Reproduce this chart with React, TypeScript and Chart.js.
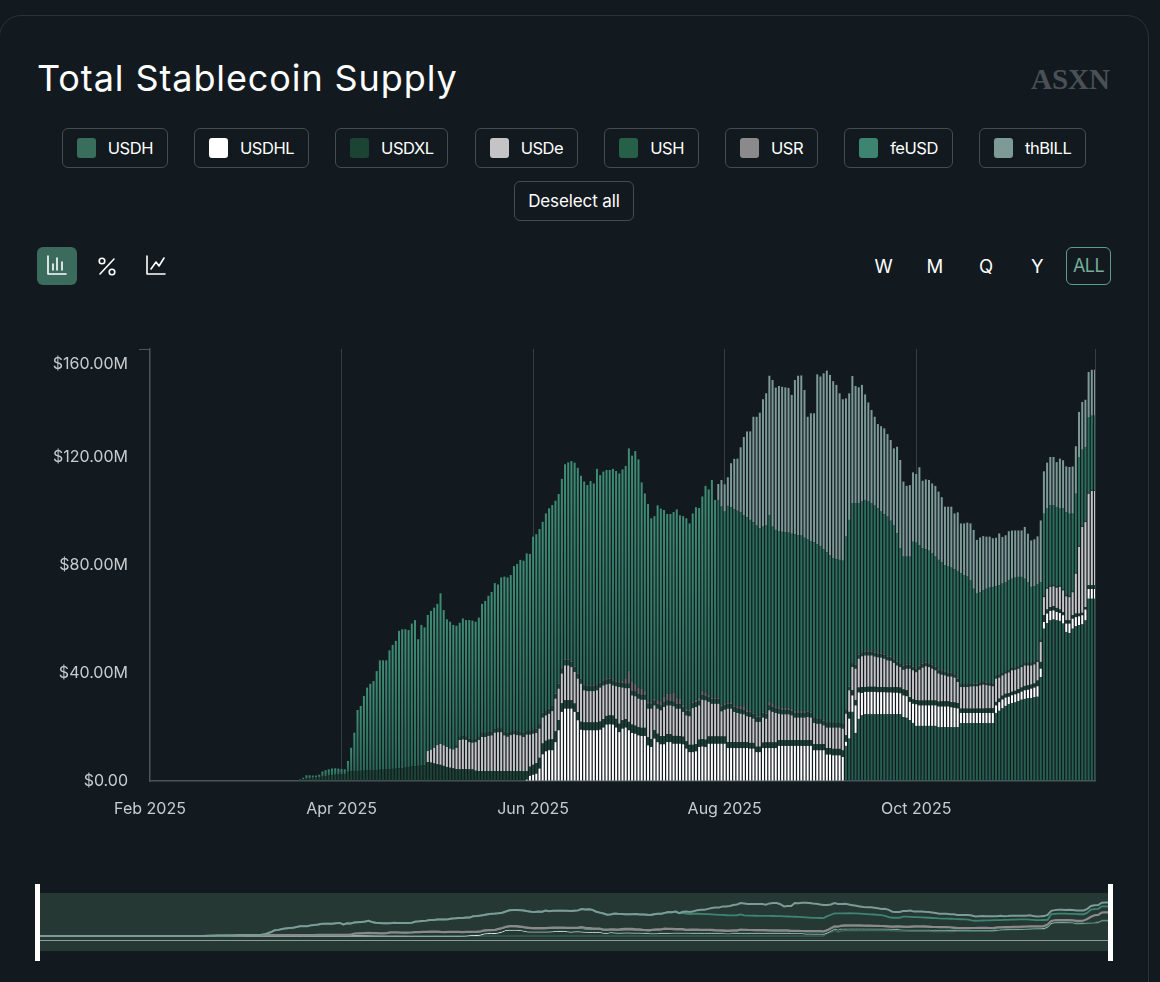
import { useEffect, useRef } from "react";
import Chart from "chart.js/auto";

const BAR_COUNT = 297;

const xTickLabels = ["Feb 2025", "Apr 2025", "Jun 2025", "Aug 2025", "Oct 2025"];
const yTickLabels = ["$0.00", "$40.00M", "$80.00M", "$120.00M", "$160.00M"];
const rangeButtons = ["W", "M", "Q", "Y"];

const seriesNames = ["USDH", "USDHL", "USDXL", "USDe", "USH", "USR", "feUSD", "thBILL"];
const seriesColors = ["#3a6e5c", "#ffffff", "#1c4435", "#c4c4c6", "#266048", "#8a8a8c", "#3d8570", "#7d9a96"];

// values in $M, each list ends on the last day; days before it starts are zero
const usdh = [
  13.0, 15.7, 25.6, 17.8, 23.0, 24.3, 24.7, 24.7, 24.7, 24.7,
  24.7, 24.7, 24.7, 24.7, 24.7, 24.7, 24.7, 24.7, 23.7, 23.4,
  22.5, 21.5, 20.4, 20.4, 20.4, 20.4, 20.4, 20.4, 20.4, 19.9,
  19.9, 19.9, 19.9, 19.9, 19.9, 19.9, 21.4, 21.4, 21.4, 21.4,
  21.4, 21.4, 21.4, 21.4, 21.4, 21.4, 21.4, 25.2, 26.0, 26.9,
  27.8, 28.4, 28.9, 29.1, 29.6, 30.1, 30.4, 30.6, 30.7, 31.0,
  31.2, 38.5, 56.4, 58.5, 59.5, 59.8, 59.5, 59.3, 58.3, 55.2,
  54.8, 56.4, 57.3, 57.7, 58.0, 59.5, 67.5, 67.5, 67.5,
];

const usdhl = [
  0.5, 1.9, 2.3, 2.7, 4.6, 9.9, 11.0, 11.4, 11.4, 14.4,
  18.8, 25.6, 26.8, 26.8, 26.8, 25.6, 22.5, 19.0, 18.8, 18.8,
  18.8, 18.8, 18.8, 19.0, 19.8, 20.9, 21.0, 20.9, 19.8, 18.1,
  19.4, 19.8, 18.8, 17.8, 17.5, 16.9, 16.7, 16.7, 13.2, 12.6,
  15.7, 14.4, 13.6, 13.6, 14.4, 14.4, 13.8, 13.8, 13.8, 13.6,
  12.0, 10.7, 10.7, 11.0, 12.6, 12.8, 12.6, 13.8, 13.8, 13.8,
  13.8, 13.8, 13.8, 12.2, 12.2, 12.2, 12.2, 12.2, 12.2, 12.2,
  12.0, 12.0, 10.7, 10.7, 12.2, 12.2, 12.2, 12.2, 12.2, 13.0,
  13.0, 13.0, 13.0, 13.0, 13.0, 13.0, 13.0, 13.0, 13.0, 13.0,
  11.4, 11.4, 11.4, 11.4, 9.8, 9.8, 9.5, 9.5, 9.5, 8.9,
  1.5, 7.4, 6.1, 10.2, 9.8, 8.3, 8.3, 8.3, 8.3, 8.3,
  8.2, 8.2, 8.2, 8.1, 8.1, 8.0, 8.0, 7.8, 8.0, 8.0,
  6.8, 7.1, 8.0, 7.6, 7.6, 7.6, 7.6, 7.6, 7.6, 7.7,
  7.7, 7.7, 7.7, 7.4, 7.2, 7.0, 3.8, 3.8, 3.8, 3.8,
  3.8, 3.8, 3.8, 3.8, 3.8, 3.8, 3.8, 2.8, 3.2, 3.3,
  3.1, 2.8, 2.9, 3.0, 2.9, 3.0, 3.2, 3.2, 3.5, 3.6,
  3.9, 3.1, 2.5, 3.5, 3.5, 3.4, 3.1, 2.9, 3.1, 3.1,
  3.5, 3.7, 3.4, 3.3, 3.4, 4.0, 3.6, 3.6, 3.6,
];

const usdxl = [
  0.2, 0.4, 0.6, 0.9, 1.1, 1.2, 1.3, 1.4, 1.6, 1.8,
  2.0, 2.2, 2.3, 2.4, 2.5, 2.6, 3.4, 3.6, 3.7, 3.7,
  3.8, 3.8, 3.9, 3.9, 4.0, 4.1, 4.2, 4.2, 4.3, 4.3,
  4.5, 4.6, 4.7, 4.8, 5.0, 5.2, 5.4, 5.5, 5.6, 5.7,
  5.9, 7.0, 6.8, 6.5, 6.2, 6.0, 5.6, 5.2, 4.9, 4.7,
  4.4, 4.3, 4.4, 4.4, 4.3, 4.3, 3.8, 3.7, 3.7, 3.7,
  3.7, 3.7, 3.7, 3.7, 3.7, 3.7, 3.7, 3.7, 3.7, 3.7,
  3.7, 3.6, 3.2, 3.4, 3.7, 3.9, 4.0, 4.0, 3.9, 3.9,
  4.0, 4.0, 3.8, 3.2, 3.1, 3.1, 3.1, 3.1, 3.0, 2.9,
  2.9, 2.9, 2.9, 2.9, 2.9, 3.0, 3.1, 3.2, 3.3, 3.3,
  3.2, 3.1, 3.1, 3.1, 3.1, 3.1, 3.0, 3.0, 3.0, 3.0,
  3.0, 2.9, 3.1, 3.1, 3.0, 3.0, 3.0, 3.0, 2.9, 2.9,
  2.8, 2.8, 2.7, 2.7, 2.7, 2.7, 2.7, 2.7, 2.7, 2.7,
  2.7, 2.7, 2.7, 2.7, 2.7, 2.2, 2.2, 2.2, 2.2, 2.2,
  2.2, 2.2, 2.1, 2.1, 2.0, 2.0, 2.0, 2.1, 2.1, 2.1,
  2.1, 2.1, 2.1, 2.1, 2.1, 2.1, 2.1, 2.1, 2.1, 2.1,
  2.1, 2.1, 2.2, 2.2, 2.2, 2.3, 2.4, 2.4, 2.4, 2.4,
  2.4, 2.4, 2.4, 2.5, 1.9, 2.0, 1.8, 2.2, 1.8, 1.9,
  1.9, 1.9, 1.9, 1.9, 1.9, 1.9, 1.9, 2.0, 2.0, 2.1,
  2.2, 2.2, 1.7, 1.6, 1.6, 1.8, 1.8, 1.8, 1.8, 1.8,
  1.8, 1.8, 1.9, 1.9, 1.9, 1.9, 2.0, 2.0, 1.6, 1.6,
  1.6, 1.6, 1.6, 1.6, 1.6, 1.6, 1.7, 1.7, 1.7, 1.3,
  1.3, 1.4, 1.4, 1.3, 1.3, 1.3, 1.5, 1.5, 1.6, 1.6,
  1.5, 1.5, 2.1, 2.5, 2.5, 1.5, 1.4, 1.6, 1.5, 1.3,
  1.2, 1.2, 1.2, 1.3, 1.3, 1.0, 0.9, 0.9, 1.4, 1.4,
  1.4,
];

const usde = [
  4.1, 4.8, 5.8, 7.1, 7.7, 7.6, 7.4, 7.1, 7.0, 7.9,
  10.9, 11.0, 10.8, 10.1, 9.9, 10.6, 11.5, 12.6, 12.6, 13.0,
  13.2, 14.2, 14.4, 14.4, 13.2, 12.7, 13.3, 13.6, 13.3, 13.2,
  12.7, 13.5, 11.9, 11.5, 11.2, 10.8, 9.6, 9.4, 9.6, 10.5,
  12.1, 11.6, 11.0, 12.9, 12.9, 12.3, 11.7, 12.4, 14.1, 11.9,
  11.6, 11.6, 11.6, 11.9, 12.6, 12.5, 11.7, 11.7, 11.2, 12.1,
  13.6, 12.1, 11.5, 12.5, 10.8, 10.9, 10.6, 10.4, 10.4, 10.6,
  11.3, 9.2, 9.3, 9.6, 10.8, 10.6, 10.6, 11.0, 10.1, 10.2,
  9.2, 9.6, 10.6, 13.6, 13.7, 12.7, 14.6, 14.6, 12.8, 12.1,
  12.1, 12.1, 9.3, 9.9, 12.4, 12.4, 11.2, 10.8, 10.5, 10.3,
  9.6, 9.6, 9.0, 9.2, 9.2, 9.3, 8.8, 11.9, 11.3, 10.9,
  9.8, 9.6, 9.6, 9.6, 9.2, 8.4, 8.4, 8.4, 8.4, 8.6,
  8.4, 7.9, 7.6, 7.6, 6.9, 7.6, 7.6, 7.9, 7.9, 7.9,
  8.1, 8.0, 8.0, 8.6, 11.6, 10.7, 11.4, 11.7, 11.6, 11.6,
  11.2, 11.0, 10.9, 10.5, 10.0, 9.8, 9.0, 8.1, 7.6, 7.3,
  8.0, 10.6, 10.8, 10.3, 11.4, 12.2, 12.7, 12.4, 11.8, 11.2,
  10.4, 9.9, 9.6, 9.2, 9.5, 9.2, 7.8, 8.0, 8.0, 8.0,
  8.2, 8.3, 8.3, 8.6, 8.9, 8.6, 8.4, 8.2, 8.6, 7.8,
  7.5, 7.5, 7.7, 7.9, 7.8, 7.6, 7.6, 7.6, 7.4, 7.1,
  7.1, 6.9, 7.4, 6.7, 7.7, 7.5, 7.3, 7.5, 8.4, 8.0,
  8.9, 8.6, 8.5, 14.8, 24.7, 31.8, 31.5, 33.9, 34.9, 34.9,
];

const ush = [
  0.8, 1.2, 1.2, 1.2, 1.1, 1.1, 1.2, 1.2, 1.3, 1.3,
  1.3, 1.3, 1.3, 1.3, 1.3, 1.3, 1.3, 1.3, 1.3, 1.3,
  1.3, 1.4, 1.4, 1.4, 1.5, 1.5, 1.5, 1.6, 1.7, 1.7,
  1.7, 1.7, 1.7, 1.8, 1.9, 1.9, 1.8, 1.8, 1.7, 1.6,
  1.7, 1.7, 1.7, 1.7, 1.7, 1.6, 1.7, 1.7, 1.7, 1.7,
  1.6, 1.6, 1.6, 1.6, 1.6, 1.6, 1.7, 1.7, 1.7, 1.7,
  1.8, 1.8, 1.7, 1.6, 1.7, 1.7, 1.7, 1.6, 1.6, 1.6,
  1.6, 1.6, 1.6, 1.7, 1.7, 1.7, 1.6, 1.6, 1.6, 1.6,
  1.6, 1.6, 1.6, 1.7, 1.7, 1.7, 1.7, 1.6, 1.6, 1.6,
  1.6, 1.6, 1.6, 1.6, 1.6, 1.6, 1.6, 1.6, 1.7, 1.7,
  1.6, 1.6, 1.6, 1.6, 1.6, 1.6, 1.7, 1.7, 1.7, 1.7,
  1.7, 1.7, 1.6, 1.6, 1.6, 1.6, 1.6, 1.6, 1.6, 1.6,
  1.6, 1.6, 1.2, 1.2, 1.3, 1.3, 1.3, 1.3, 1.3, 1.3,
  1.3, 1.3, 1.3, 1.3, 1.3, 1.2, 1.2, 1.2, 1.2, 1.2,
  1.2, 1.2, 1.2, 1.2, 1.2, 1.2, 1.2, 1.2, 1.2, 1.2,
  1.1, 1.1, 1.1, 1.1, 1.1, 1.1, 1.0, 1.0, 0.9, 0.9,
  0.9, 0.8, 0.8, 0.8, 0.8, 0.8, 0.8, 0.8, 0.8, 0.8,
  0.8, 0.8, 0.7, 0.7, 0.7, 0.7, 0.7, 0.7, 0.7, 0.7,
  0.7, 0.7, 0.7, 0.6, 0.4, 0.4, 0.4, 0.4, 0.4, 0.4,
  0.4, 0.4, 0.4, 0.4, 0.4, 0.4, 0.4, 0.4, 0.4, 0.4,
  0.4,
];

const usr = [
  0.3, 0.3, 0.3, 0.3, 0.3, 0.3, 0.3, 0.3, 0.3, 0.3,
  0.3, 0.3, 0.3, 0.3, 0.3, 0.3, 0.3, 0.3, 0.3, 0.3,
  0.3, 0.3, 0.3, 0.3, 0.3, 0.4, 0.4, 0.4, 0.4, 0.4,
  0.4, 0.5, 0.5, 0.5, 0.5, 0.5, 0.5, 0.5, 0.5, 0.5,
  0.5, 0.5, 0.5, 0.5, 0.5, 0.6, 0.6, 0.6, 0.6, 0.6,
  0.6, 0.6, 0.8, 2.0, 4.8, 3.6, 2.9, 2.4, 2.3, 1.5,
  0.8, 0.8, 0.8, 1.5, 1.6, 2.0, 2.6, 2.8, 3.4, 2.3,
  2.0, 1.0, 0.8, 0.8, 0.8, 1.0, 1.2, 1.8, 1.3, 1.2,
  0.8, 0.8, 0.7, 0.7, 0.7, 0.6, 0.8, 0.8, 0.9, 1.4,
  1.4, 1.0, 0.8, 0.7, 0.6, 0.6, 0.6, 0.6, 1.5, 1.2,
  0.9, 0.8, 0.8, 0.8, 0.8, 0.9, 0.9, 0.7, 0.7, 0.7,
  0.6, 0.5, 0.4, 0.4, 0.4, 0.4, 0.3, 0.3, 0.3, 0.3,
  0.3, 0.3, 0.4, 0.4, 0.4, 0.4, 0.5, 0.5, 0.6, 0.6,
  0.6, 0.6, 0.6, 0.6, 0.6, 0.6, 0.6, 0.6, 0.6, 0.6,
  0.6, 0.6, 0.6, 0.6, 0.6, 0.6, 0.6, 0.6, 0.6, 0.6,
  0.6, 0.6, 0.5, 0.5, 0.5, 0.5, 0.5, 0.5, 0.4, 0.4,
  0.4, 0.4, 0.4, 0.4, 0.4, 0.4, 0.4, 0.4, 0.3, 0.3,
  0.3, 0.3, 0.3, 0.3, 0.3, 0.3, 0.3, 0.3, 0.3, 0.3,
  0.3, 0.3, 0.3, 0.3, 0.2, 0.2, 0.2, 0.2, 0.2, 0.2,
  0.2, 0.2, 0.2, 0.2, 0.2, 0.2, 0.2, 0.2, 0.2, 0.2,
  0.2,
];

const feUsd = [
  0.0, 0.2, 0.6, 1.2, 1.0, 0.8, 0.7, 0.9, 1.9, 2.2,
  2.3, 2.4, 2.4, 2.2, 1.9, 1.7, 4.0, 8.7, 14.2, 22.6,
  24.0, 27.7, 30.7, 32.1, 33.0, 36.6, 40.5, 40.5, 40.4, 44.1,
  45.9, 47.3, 50.9, 51.4, 51.2, 50.7, 52.9, 54.1, 46.9, 52.1,
  51.0, 50.4, 51.4, 51.9, 52.3, 55.8, 50.1, 47.3, 47.0, 46.1,
  44.1, 41.9, 43.3, 42.9, 43.8, 43.8, 43.1, 43.8, 47.7, 48.8,
  50.3, 51.5, 53.8, 53.1, 55.7, 57.2, 57.4, 57.7, 60.7, 61.8,
  63.4, 63.6, 65.4, 65.2, 71.2, 71.7, 72.0, 70.5, 72.7, 74.0,
  74.2, 71.1, 69.9, 69.8, 72.1, 72.8, 74.0, 75.2, 75.9, 75.0,
  75.1, 74.1, 75.6, 74.7, 79.8, 76.5, 76.9, 77.1, 76.9, 77.9,
  77.5, 76.9, 78.4, 78.7, 82.4, 83.6, 86.2, 84.5, 76.5, 73.2,
  73.2, 67.9, 67.6, 72.2, 71.4, 69.3, 66.6, 66.5, 66.9, 69.9,
  68.0, 69.9, 70.6, 68.9, 69.6, 71.3, 70.3, 71.9, 76.5, 75.9,
  80.5, 73.1, 73.2, 73.4, 71.0, 72.8, 72.1, 72.7, 72.4, 71.6,
  70.8, 71.1, 70.6, 70.4, 70.5, 69.5, 68.5, 69.3, 69.1, 65.7,
  65.3, 65.3, 65.2, 65.0, 64.9, 64.8, 65.3, 65.2, 65.0, 64.2,
  63.5, 63.2, 64.9, 64.5, 63.8, 63.2, 63.0, 62.0, 60.8, 60.5,
  60.2, 60.3, 64.0, 61.5, 58.9, 59.5, 55.7, 55.5, 55.7, 55.1,
  54.4, 54.0, 53.3, 52.2, 51.6, 51.4, 50.1, 49.3, 47.1, 42.2,
  40.1, 39.7, 39.7, 45.8, 46.2, 44.4, 42.4, 41.6, 41.3, 40.9,
  40.4, 40.4, 40.0, 39.3, 39.1, 38.7, 38.7, 39.6, 40.8, 40.2,
  39.6, 38.1, 34.9, 33.1, 33.4, 33.7, 34.5, 35.1, 35.7, 33.2,
  33.1, 32.9, 32.9, 33.1, 32.9, 33.1, 33.0, 32.4, 31.1, 29.9,
  28.1, 27.9, 27.7, 21.3, 30.3, 29.1, 29.6, 29.4, 29.3, 28.4,
  29.7, 30.6, 30.3, 28.5, 29.0, 32.7, 28.0, 27.2, 27.6, 27.3,
  27.3,
];

const thBill = [
  5.9, 9.9, 10.1, 10.6, 16.3, 18.6, 19.3, 24.1, 28.9, 31.7,
  32.8, 39.1, 40.3, 42.8, 47.2, 49.0, 51.6, 54.3, 52.7, 53.7,
  53.7, 53.7, 53.6, 51.4, 57.1, 59.0, 59.3, 54.7, 45.4, 47.3,
  47.8, 62.9, 62.8, 65.2, 67.3, 66.7, 65.6, 64.5, 61.7, 59.8,
  51.2, 46.9, 47.2, 43.5, 43.0, 43.2, 39.1, 36.7, 34.6, 32.9,
  31.2, 31.6, 31.8, 30.6, 29.9, 28.4, 32.1, 32.7, 27.8, 26.2,
  26.5, 25.7, 25.4, 28.8, 25.0, 25.8, 26.2, 25.9, 26.2, 25.3,
  24.1, 21.6, 22.2, 22.6, 20.6, 21.7, 18.5, 19.1, 20.0, 21.1,
  21.8, 19.9, 20.2, 20.1, 19.3, 18.9, 18.0, 17.9, 19.2, 17.3,
  17.3, 18.2, 17.9, 17.5, 17.2, 17.2, 19.2, 17.9, 17.2, 17.4,
  17.8, 22.8, 15.7, 17.0, 17.9, 17.9, 16.6, 18.5, 17.9, 16.9,
  17.3, 17.5, 17.6, 16.7, 17.7, 17.5, 16.9, 17.0, 17.0,
];

const padFront = (values: number[]) => [...new Array(BAR_COUNT - values.length).fill(0), ...values];
const seriesValues = [usdh, usdhl, usdxl, usde, ush, usr, feUsd, thBill].map(padFront);
const dayLabels = new Array(BAR_COUNT).fill(0).map((_, i) => String(i));

// running sum per series, the overview strip draws the stack as lines
const stackedTops = seriesValues.map((_, s) =>
  dayLabels.map((_d, i) => seriesValues.slice(0, s + 1).reduce((sum, v) => sum + v[i], 0))
);

const FONT = "Inter, sans-serif";
const PAGE_BG = "#121a20";
const AXIS_COLOR = "#4b5459";
const FE_INDEX = seriesNames.indexOf("feUSD");
const THBILL_START = BAR_COUNT - thBill.length;

// feUSD bars fade downward while they top the stack, and stay dark under thBILL
const feUsdFill = (ctx: any) => {
  const { chart, dataIndex } = ctx;
  if (dataIndex >= THBILL_START) return "#2c6f5c";
  const below = stackedTops[FE_INDEX - 1][dataIndex];
  const top = stackedTops[FE_INDEX][dataIndex];
  const y = chart.scales.y;
  const y0 = y ? y.getPixelForValue(top) : NaN;
  const y1 = y ? y.getPixelForValue(below) : NaN;
  if (!Number.isFinite(y0) || !Number.isFinite(y1)) return "#3d8570";
  const fill = chart.ctx.createLinearGradient(0, y0, 0, y1);
  fill.addColorStop(0, "#3f8d75");
  fill.addColorStop(1, "#2a6a58");
  return fill;
};

const barColors = ["#265e4f", "#ffffff", "#1c4435", "#c4c4c6", "#1f4f40", "#6a6a6e", feUsdFill, "#7d9a96"];

function SupplyBars() {
  const canvasRef = useRef<HTMLCanvasElement | null>(null);
  useEffect(() => {
    if (!canvasRef.current) return;
    const chart = new Chart(canvasRef.current, {
      type: "bar",
      data: {
        labels: dayLabels,
        datasets: seriesNames.map((name, i) => ({
          label: name,
          data: seriesValues[i],
          backgroundColor: barColors[i],
          borderWidth: 0,
          barPercentage: 0.62,
          categoryPercentage: 1,
        })),
      },
      options: {
        responsive: false,
        animation: false,
        layout: { padding: { top: 49, right: 65 } },
        plugins: { legend: { display: false }, tooltip: { enabled: false } },
        scales: {
          x: {
            stacked: true,
            offset: false,
            afterFit: (scale: any) => { scale.height = 49; },
            border: { display: true, color: AXIS_COLOR, width: 1.5 },
            grid: {
              offset: false,
              drawTicks: false,
              color: (ctx: any) => (ctx.index > 0 && (ctx.index % 60 === 0 || ctx.index === BAR_COUNT - 1) ? "#363e44" : "transparent"),
            },
            ticks: {
              autoSkip: false,
              maxRotation: 0,
              padding: 19,
              color: "#c8ccce",
              font: { family: FONT, size: 16 },
              callback: (_: any, i: number) => (i % 60 === 0 ? xTickLabels[i / 60] ?? "" : ""),
            },
          },
          y: {
            stacked: true,
            min: 0,
            max: 160,
            afterFit: (scale: any) => { scale.width = 150; },
            border: { display: true, color: AXIS_COLOR, width: 1.5 },
            grid: {
              drawOnChartArea: false,
              tickLength: 11,
              tickColor: (ctx: any) => (ctx.tick && ctx.tick.value === 160 ? AXIS_COLOR : "transparent"),
            },
            ticks: {
              stepSize: 40,
              padding: 11,
              color: "#c8ccce",
              font: { family: FONT, size: 16, lineHeight: 0.95 },
              // the top label sits below its tick, so it gets two empty lines above it
              callback: (v: any) => (v === 160 ? ["", "", yTickLabels[4]] : yTickLabels[v / 40]),
            },
          },
        },
      },
    });
    return () => chart.destroy();
  }, []);
  return <canvas ref={canvasRef} width={1160} height={530} style={{ position: "absolute", left: 0, top: 300, width: 1160, height: 530 }} />;
}

const overviewWidths = [1.2, 1, 1, 1, 1, 2.2, 1.8, 2];

function RangeOverview() {
  const canvasRef = useRef<HTMLCanvasElement | null>(null);
  useEffect(() => {
    if (!canvasRef.current) return;
    const chart = new Chart(canvasRef.current, {
      type: "line",
      data: {
        labels: dayLabels,
        datasets: seriesNames.map((name, i) => ({
          label: name,
          data: stackedTops[i],
          borderColor: seriesColors[i],
          borderWidth: overviewWidths[i],
          order: seriesNames.length - i,
          pointRadius: 0,
          fill: false,
          tension: 0,
        })),
      },
      options: {
        responsive: false,
        animation: false,
        plugins: { legend: { display: false }, tooltip: { enabled: false } },
        scales: {
          x: { display: false, offset: false },
          y: { display: false, min: -68.5, max: 196 },
        },
      },
    });
    return () => chart.destroy();
  }, []);
  return <canvas ref={canvasRef} width={1069} height={58} style={{ position: "absolute", left: 40, top: 893, width: 1069, height: 58 }} />;
}

function Chip({ color, text }: { color?: string; text: string }) {
  return (
    <div style={{ display: "flex", alignItems: "center", height: 38, padding: color ? "0 13.75px" : "0 13px", border: "1px solid #444c51", borderRadius: 6, color: "#fff", fontSize: color ? 16.5 : 17, letterSpacing: color ? -0.45 : -0.1, whiteSpace: "nowrap" }}>
      {color && <span style={{ width: 19, height: 20, borderRadius: 3, background: color, marginRight: 12 }} />}
      {text}
    </div>
  );
}

const iconStroke = { fill: "none", stroke: "#fff", strokeWidth: 1.6, strokeLinecap: "round" as const, strokeLinejoin: "round" as const };

export default function App() {
  return (
    <div style={{ position: "fixed", inset: 0, overflow: "hidden", background: PAGE_BG, fontFamily: FONT }}>
      <div style={{ position: "absolute", left: -1, top: 15, width: 1150, height: 1000, border: "1px solid #2a3237", borderRadius: 22, boxSizing: "border-box" }} />

      <div style={{ position: "absolute", left: 37, top: 54, fontSize: 36, lineHeight: "48px", letterSpacing: 0.9, color: "#fff" }}>Total Stablecoin Supply</div>
      <div style={{ position: "absolute", right: 50, top: 62, fontFamily: "'Liberation Serif', serif", fontWeight: 700, fontSize: 29, lineHeight: "34px", color: "#4a5055" }}>ASXN</div>

      <div style={{ position: "absolute", left: 0, top: 128, width: 1148, display: "flex", justifyContent: "center", gap: 26.5 }}>
        {seriesNames.map((name, i) => <Chip key={name} color={seriesColors[i]} text={name} />)}
      </div>
      <div style={{ position: "absolute", left: 0, top: 181, width: 1148, display: "flex", justifyContent: "center" }}>
        <Chip text="Deselect all" />
      </div>

      <div style={{ position: "absolute", left: 37, top: 247, width: 40, height: 38, borderRadius: 6, background: "#3a6b5c" }} />
      <svg style={{ position: "absolute", left: 37, top: 247 }} width="140" height="38" viewBox="0 0 140 38">
        <path d="M11 9 V27 H29 M16 23 V17 M20 23 V11 M25 23 V15" {...iconStroke} />
        <path d="M77 12 L63 27" {...iconStroke} />
        <circle cx="65" cy="14" r="2.8" {...iconStroke} />
        <circle cx="75" cy="25" r="2.8" {...iconStroke} />
        <path d="M110 9 V27 H128 M114 22 L119 15 L122 19 L127 11" {...iconStroke} />
      </svg>

      {rangeButtons.map((b, i) => (
        <div key={b} style={{ position: "absolute", left: 863.5 + i * 51.3, top: 247, width: 40, height: 38, lineHeight: "38px", textAlign: "center", color: "#fff", fontSize: 18.5 }}>{b}</div>
      ))}
      <div style={{ position: "absolute", left: 1066, top: 247, width: 45, height: 38, lineHeight: "36px", textAlign: "center", boxSizing: "border-box", border: "1px solid #5f9c8a", borderRadius: 6, color: "#74ad98", fontSize: 18, letterSpacing: -0.6 }}>ALL</div>

      <SupplyBars />

      <div style={{ position: "absolute", left: 40, top: 893, width: 1069, height: 58, background: "#253833" }} />
      <div style={{ position: "absolute", left: 40, top: 940, width: 1069, height: 1, background: "#8c9c97" }} />
      <RangeOverview />
      <div style={{ position: "absolute", left: 35, top: 884, width: 5, height: 77, background: "#fff" }} />
      <div style={{ position: "absolute", left: 1108, top: 884, width: 5, height: 77, background: "#fff" }} />
    </div>
  );
}
